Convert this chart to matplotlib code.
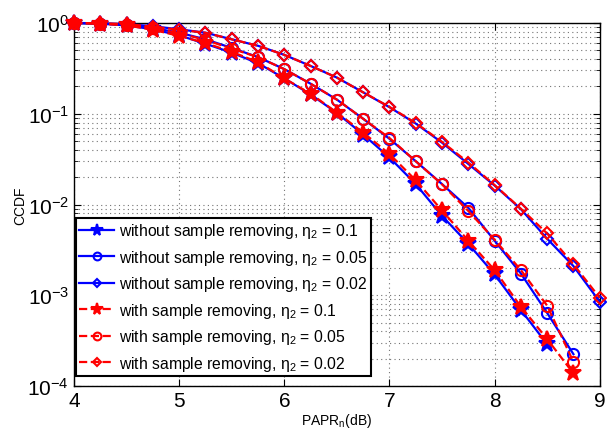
import matplotlib
matplotlib.use('Agg')
import matplotlib.pyplot as plt
import numpy as np

plt.rcParams['font.family'] = ['Liberation Sans', 'DejaVu Sans']
plt.rcParams['mathtext.fontset'] = 'custom'
plt.rcParams['mathtext.rm'] = 'Liberation Sans'
plt.rcParams['mathtext.it'] = 'Liberation Sans:italic'

# PAPR threshold (dB)
papr = [4.0, 4.25, 4.5, 4.75, 5.0, 5.25, 5.5, 5.75, 6.0, 6.25, 6.5,
        6.75, 7.0, 7.25, 7.5, 7.75, 8.0, 8.25, 8.5, 8.75, 9.0]

# without sample removing
ccdf_wo_01 = [1.0, 0.98, 0.94, 0.85, 0.73, 0.59, 0.47, 0.36, 0.245, 0.163, 0.102,
              0.059, 0.033, 0.0168, 0.0075, 0.0037, 0.0017, 0.00069, 0.00029]
ccdf_wo_005 = [1.0, 0.985, 0.955, 0.88, 0.78, 0.66, 0.53, 0.42, 0.31, 0.214, 0.143,
               0.088, 0.053, 0.030, 0.0168, 0.0092, 0.0040, 0.00174, 0.00064, 0.000225]
ccdf_wo_002 = [1.0, 0.99, 0.97, 0.92, 0.85, 0.78, 0.66, 0.56, 0.445, 0.336, 0.25,
               0.172, 0.118, 0.078, 0.048, 0.028, 0.0162, 0.0089, 0.0042, 0.0021, 0.00085]

# with sample removing
ccdf_w_01 = [1.0, 0.98, 0.94, 0.84, 0.72, 0.60, 0.48, 0.37, 0.245, 0.166, 0.103,
             0.062, 0.036, 0.0185, 0.0086, 0.0040, 0.0019, 0.00075, 0.00033, 0.000138]
ccdf_w_005 = [1.0, 0.985, 0.955, 0.88, 0.77, 0.65, 0.52, 0.42, 0.31, 0.214, 0.143,
              0.088, 0.054, 0.030, 0.0167, 0.0085, 0.0041, 0.0019, 0.00077, 0.000185]
ccdf_w_002 = [1.0, 0.99, 0.97, 0.91, 0.84, 0.78, 0.66, 0.56, 0.445, 0.336, 0.25,
              0.172, 0.119, 0.079, 0.049, 0.029, 0.0164, 0.0090, 0.0048, 0.0022, 0.00094]

labels = ['without sample removing, η$_2$ = 0.1',
          'without sample removing, η$_2$ = 0.05',
          'without sample removing, η$_2$ = 0.02',
          'with sample removing, η$_2$ = 0.1',
          'with sample removing, η$_2$ = 0.05',
          'with sample removing, η$_2$ = 0.02']

fig = plt.figure(figsize=(6.07, 4.35), dpi=100)
ax = fig.add_axes([0.122, 0.110, 0.866, 0.835])

series = [ccdf_wo_01, ccdf_wo_005, ccdf_wo_002, ccdf_w_01, ccdf_w_005, ccdf_w_002]
markers = ['*', 'o', 'D', '*', 'o', 'D']
for i, (y, m, lab) in enumerate(zip(series, markers, labels)):
    color = 'b' if i < 3 else 'r'
    ls = '-' if i < 3 else '--'
    ms = {'*': 12, 'o': 8, 'D': 6.5}[m]
    face = color if m == '*' else 'none'
    ax.plot(papr[:len(y)], y, color=color, linestyle=ls, linewidth=1.6,
            marker=m, markersize=ms, markerfacecolor=face, markeredgecolor=color,
            markeredgewidth=1.5, label=lab, clip_on=False, zorder=3)

ax.set_yscale('log')
ax.set_xlim(4, 9)
ax.set_ylim(1e-4, 1)
ax.set_xticks([4, 5, 6, 7, 8, 9])
ax.tick_params(which='both', direction='in', top=True, right=True, labelsize=15)
ax.tick_params(which='major', length=5)
ax.tick_params(which='minor', length=3)
ax.grid(True, which='both', linestyle=(0, (1, 3)), color='0.45', linewidth=0.8)
for s in ax.spines.values():
    s.set_linewidth(1.0)

ax.set_xlabel('PAPR$_\\mathrm{n}$(dB)', fontsize=10, labelpad=1)
ax.set_ylabel('CCDF', fontsize=10, labelpad=0)

leg = ax.legend(loc='lower left', bbox_to_anchor=(0.004, 0.028), borderaxespad=0,
                fontsize=11.3, handlelength=2.2, labelspacing=0.48, markerscale=0.7,
                fancybox=False, framealpha=1, edgecolor='k',
                handletextpad=0.35, borderpad=0.2)
leg.get_frame().set_linewidth(1.5)
leg.set_zorder(5)

fig.savefig('out.png', dpi=100)
